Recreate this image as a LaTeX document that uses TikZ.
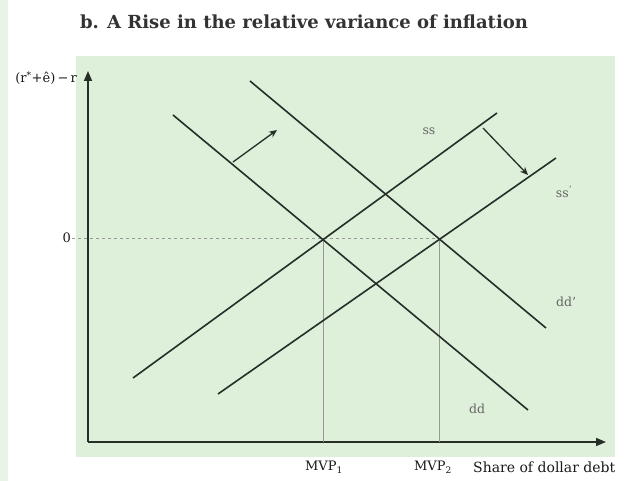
\documentclass[tikz,border=0pt]{standalone}
\usepackage{fontspec}
\setmainfont{DejaVu Serif}
\usetikzlibrary{arrows.meta}

\definecolor{bggreen}{RGB}{222,239,218}
\definecolor{ink}{RGB}{38,46,40}

\begin{document}
\begin{tikzpicture}[
  x=1pt, y=-1pt,
  curve/.style={draw=ink, line width=1.6pt},
  guide/.style={draw=gray!80, line width=0.5pt},
  axis/.style={draw=ink, line width=1.6pt, -{Triangle[length=10pt,width=8pt]}},
  shiftarrow/.style={draw=ink, line width=1.3pt, -{Stealth[length=8pt,width=7pt]}},
  lbl/.style={font=\fontsize{12.5}{14}\selectfont, text=black!60, inner sep=1pt},
  axlbl/.style={font=\fontsize{13}{15}\selectfont, text=black!90, inner sep=1pt},
]
\useasboundingbox (0,0) rectangle (625,481);

% Background panels
\fill[bggreen!70] (0,0) rectangle (8,481);
\fill[bggreen] (76,56) rectangle (615,457);

% Title
\node[font=\bfseries\fontsize{18}{21}\selectfont, text=black!80] (title) at (304,22) {b. A Rise in the relative variance of inflation};

% Axes
\coordinate (o) at (88,442);
\coordinate (ytop) at (88,71);
\coordinate (xend) at (606,442);
\draw[axis] (o) -- (ytop);
\draw[axis] (o) -- (xend);
\node[axlbl, anchor=east] (ylab) at (78,78) {(r\textsuperscript{*}+ê)\,−\,r};

% Equilibria and guide lines
\coordinate (e1) at (323,238);
\coordinate (e2) at (439,238);
\coordinate (z) at (72,238);
\node[axlbl, anchor=east] (zero) at (z) {0};
\draw[guide, dashed] (z) -- (e2);
\draw[guide] (e1) -- (e1 |- o);
\draw[guide] (e2) -- (e2 |- o);
\node[axlbl] (mvp1) at (324,467) {MVP\textsubscript{1}};
\node[axlbl] (mvp2) at (433,467) {MVP\textsubscript{2}};
\node[axlbl, font=\fontsize{14}{16}\selectfont, anchor=west] (xlab) at (472,467) {Share of dollar debt};

% dd curves
\coordinate (dd1) at (173,115);
\coordinate (dd2) at (528,410);
\coordinate (ddp1) at (250,81);
\coordinate (ddp2) at (546,328);
\draw[curve] (dd1) -- (dd2);
\draw[curve] (ddp1) -- (ddp2);

% ss curves
\coordinate (ss1) at (133,378);
\coordinate (ss2) at (497,113);
\coordinate (ssp1) at (218,394);
\coordinate (ssp2) at (556,158);
\draw[curve] (ss1) -- (ss2);
\draw[curve] (ssp1) -- (ssp2);

% Curve labels
\node[lbl] (lss) at (429,131) {ss};
\node[lbl] (lssp) at (564,192) {ss\textsuperscript{'}};
\node[lbl] (lddp) at (566,302) {dd’};
\node[lbl] (ldd) at (477,409) {dd};

% Shifts
\coordinate (a1) at (233,162);
\coordinate (a2) at (277,130);
\coordinate (b1) at (483,128);
\coordinate (b2) at (528,175);
\draw[shiftarrow] (a1) -- (a2);
\draw[shiftarrow] (b1) -- (b2);

\end{tikzpicture}
\end{document}
